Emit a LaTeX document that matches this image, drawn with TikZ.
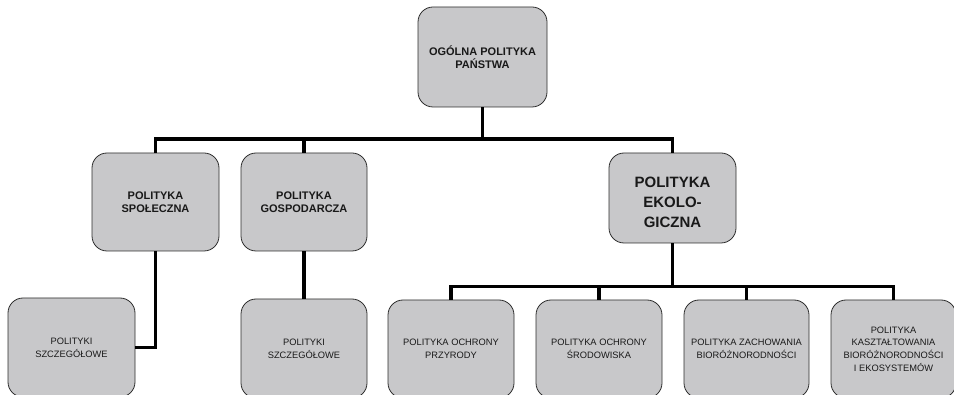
\documentclass[tikz,border=0pt]{standalone}
\usepackage{fontspec}
\setmainfont{Liberation Sans}
\definecolor{boxfill}{RGB}{200,200,202}
\definecolor{boxline}{RGB}{45,45,45}
\definecolor{txt}{RGB}{25,25,25}
\begin{document}
\begin{tikzpicture}[x=1pt,y=-1pt,
  box/.style={draw=boxline,line width=0.8pt,fill=boxfill,rounded corners=15pt,
    align=center,text=txt,inner sep=0pt,anchor=center},
  midtxt/.style={font=\fontsize{11}{13.5}\selectfont\bfseries},
  bigtxt/.style={font=\fontsize{15}{20}\selectfont\bfseries},
  lowtxt/.style={font=\fontsize{9.3}{12.6}\selectfont},
  conn/.style={draw=black,line width=3.6pt,line join=miter}]
\useasboundingbox (0,0) rectangle (954,395);
% nodes
\node[box,midtxt,minimum width=129pt,minimum height=100pt] (top) at (482.5,57) {OGÓLNA POLITYKA\\PAŃSTWA};
\node[box,midtxt,minimum width=127pt,minimum height=98pt] (spol) at (155.5,202) {POLITYKA\\SPOŁECZNA};
\node[box,midtxt,minimum width=126pt,minimum height=98pt] (gosp) at (304,202) {POLITYKA\\GOSPODARCZA};
\node[box,minimum width=127pt,minimum height=90pt] (ekol) at (672.5,198) {};
\node[bigtxt,align=center,text=txt,inner sep=0pt] (ekolt) at (672.5,202) {POLITYKA\\EKOLO-\\GICZNA};
\node[box,lowtxt,minimum width=127pt,minimum height=99pt] (sz1) at (71.5,347.5) {POLITYKI\\SZCZEGÓŁOWE};
\node[box,lowtxt,minimum width=126pt,minimum height=99pt] (sz2) at (304,348.5) {POLITYKI\\SZCZEGÓŁOWE};
\node[box,lowtxt,minimum width=126pt,minimum height=98pt] (b1) at (451,349) {POLITYKA OCHRONY\\PRZYRODY};
\node[box,lowtxt,minimum width=126pt,minimum height=98pt] (b2) at (599,349) {POLITYKA OCHRONY\\ŚRODOWISKA};
\node[box,lowtxt,minimum width=125pt,minimum height=98pt] (b3) at (746.5,349) {POLITYKA ZACHOWANIA\\BIORÓŻNORODNOŚCI};
\node[box,lowtxt,minimum width=125pt,minimum height=98pt] (b4) at (893.5,349) {POLITYKA\\KASZTAŁTOWANIA\\BIORÓŻNORODNOŚCI\\I EKOSYSTEMÓW};
% bus coordinates
\coordinate (bus1) at (0,139);
\coordinate (bus2) at (0,286.5);
% connectors
\draw[conn] (top.south) -- (top.south |- bus1);
\draw[conn] (spol.north) -- (spol.north |- bus1) -- (ekol.north |- bus1) -- (ekol.north);
\draw[conn] (gosp.north) -- (gosp.north |- bus1);
\draw[conn] (ekol.south) -- (ekol.south |- bus2);
\draw[conn] (b1.north) -- (b1.north |- bus2) -- (b4.north |- bus2) -- (b4.north);
\draw[conn] (b2.north) -- (b2.north |- bus2);
\draw[conn] (b3.north) -- (b3.north |- bus2);
\draw[conn] (spol.south) |- (sz1.east);
\draw[conn] (gosp.south) -- (sz2.north);
\end{tikzpicture}
\end{document}
